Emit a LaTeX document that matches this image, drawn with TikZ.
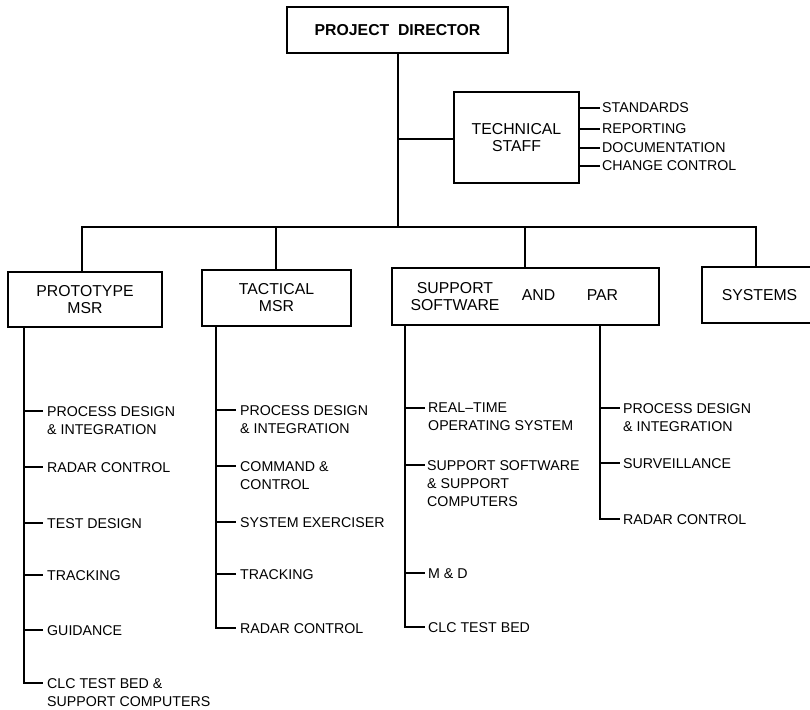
\documentclass[tikz,border=0pt]{standalone}
\usepackage{fontspec}
\setmainfont{Liberation Sans}
\begin{document}
\begin{tikzpicture}[x=1pt,y=-1pt,
  box/.style={draw, line width=1.7pt, inner sep=0pt, align=center, font=\fontsize{15.8}{17}\selectfont},
  boxtext/.style={inner sep=0pt, align=center, font=\fontsize{15.8}{17}\selectfont},
  item/.style={inner sep=0pt, anchor=north west, align=left, font=\fontsize{14.2}{18}\selectfont},
  conn/.style={line width=2.8pt, line cap=butt, line join=miter},
  tick/.style={line width=2.6pt}]
\clip (0,0) rectangle (810,709);
\useasboundingbox (0,0) rectangle (810,709);
\fill[white] (0,0) rectangle (810,709);

% top boxes
\node[box, minimum width=221pt, minimum height=46pt, font=\fontsize{15.8}{17}\selectfont\bfseries] (pd) at (397.5,30) {PROJECT\ \ DIRECTOR};
\node[box, line width=1.4pt, minimum width=125pt, minimum height=91pt] (ts) at (516.5,137.5) {TECHNICAL\\STAFF};

% second row boxes
\node[box, minimum width=154pt, minimum height=55pt] (proto) at (85,299.5) {PROTOTYPE\\MSR};
\node[box, minimum width=149pt, minimum height=56pt] (tact) at (276.5,298) {TACTICAL\\MSR};
\node[box, minimum width=267pt, minimum height=57pt] (supp) at (525.5,296.5) {};
\node[boxtext] (supptxt) at (455,297) {SUPPORT\\SOFTWARE};
\node[boxtext] (partxt) at (570,295) {AND\qquad PAR};
\node[box, minimum width=115pt, minimum height=56pt] (sys) at (759.5,295) {SYSTEMS};

% trunk and bar
\coordinate (barL) at (82,227);
\coordinate (barR) at (756,227);
\coordinate (barM) at (398,227);
\coordinate (tsj) at (398,139);
\draw[conn] (pd.south -| barM) -- (barM);
\draw[conn] (tsj) -- (ts.west |- tsj);
\draw[conn] (barL |- proto.north) -- (barL) -- (barR) -- (barR |- sys.north);
\coordinate (tactj) at (276,227);
\coordinate (suppj) at (525,227);
\draw[conn] (tactj) -- (tactj |- tact.north);
\draw[conn] (suppj) -- (suppj |- supp.north);

% technical staff items
\foreach \n/\y/\t in {1/108/STANDARDS, 2/129/REPORTING, 3/148/DOCUMENTATION, 4/166/CHANGE CONTROL}{
  \coordinate (tse\n) at (600,\y);
  \draw[tick] (ts.east |- tse\n) -- (tse\n);
  \node[item, anchor=west] (tsi\n) at (602,\y) {\t};
}

% prototype branch
\coordinate (pa1) at (24,411); \coordinate (pa1e) at (43,411);
\coordinate (pa2) at (24,467); \coordinate (pa2e) at (43,467);
\coordinate (pa3) at (24,523); \coordinate (pa3e) at (43,523);
\coordinate (pa4) at (24,575); \coordinate (pa4e) at (43,575);
\coordinate (pa5) at (24,630); \coordinate (pa5e) at (43,630);
\coordinate (pa6) at (24,683); \coordinate (pa6e) at (43,683);
\draw[conn] (proto.south -| pa1) -- (pa6) -- (pa6e);
\foreach \i in {1,...,5}{ \draw[tick] (pa\i) -- (pa\i e); }
\node[item] (pi1) at (47,406) {PROCESS DESIGN\\\& INTEGRATION};
\node[item] (pi2) at (47,462) {RADAR CONTROL};
\node[item] (pi3) at (47,518) {TEST DESIGN};
\node[item] (pi4) at (47,570) {TRACKING};
\node[item] (pi5) at (47,625) {GUIDANCE};
\node[item] (pi6) at (47,678) {CLC TEST BED \&\\SUPPORT COMPUTERS};

% tactical branch
\coordinate (ta1) at (216,410); \coordinate (ta1e) at (236,410);
\coordinate (ta2) at (216,466); \coordinate (ta2e) at (236,466);
\coordinate (ta3) at (216,522); \coordinate (ta3e) at (236,522);
\coordinate (ta4) at (216,574); \coordinate (ta4e) at (236,574);
\coordinate (ta5) at (216,628); \coordinate (ta5e) at (236,628);
\draw[conn] (tact.south -| ta1) -- (ta5) -- (ta5e);
\foreach \i in {1,...,4}{ \draw[tick] (ta\i) -- (ta\i e); }
\node[item] (ti1) at (240,405) {PROCESS DESIGN\\\& INTEGRATION};
\node[item] (ti2) at (240,461) {COMMAND \&\\CONTROL};
\node[item] (ti3) at (240,517) {SYSTEM EXERCISER};
\node[item] (ti4) at (240,569) {TRACKING};
\node[item] (ti5) at (240,623) {RADAR CONTROL};

% support software branch
\coordinate (sa1) at (405,408); \coordinate (sa1e) at (425,408);
\coordinate (sa2) at (405,465); \coordinate (sa2e) at (425,465);
\coordinate (sa3) at (405,573); \coordinate (sa3e) at (425,573);
\coordinate (sa4) at (405,627); \coordinate (sa4e) at (425,627);
\draw[conn] (supp.south -| sa1) -- (sa4) -- (sa4e);
\foreach \i in {1,...,3}{ \draw[tick] (sa\i) -- (sa\i e); }
\node[item] (si1) at (428,403) {REAL--TIME\\OPERATING SYSTEM};
\node[item] (si2) at (427,460) {SUPPORT SOFTWARE\\\& SUPPORT\\COMPUTERS};
\node[item] (si3) at (428,568) {M \& D};
\node[item] (si4) at (428,622) {CLC TEST BED};

% PAR branch
\coordinate (ra1) at (600,408); \coordinate (ra1e) at (620,408);
\coordinate (ra2) at (600,463); \coordinate (ra2e) at (620,463);
\coordinate (ra3) at (600,519); \coordinate (ra3e) at (620,519);
\draw[conn] (supp.south -| ra1) -- (ra3) -- (ra3e);
\foreach \i in {1,2}{ \draw[tick] (ra\i) -- (ra\i e); }
\node[item] (ri1) at (623,403) {PROCESS DESIGN\\\& INTEGRATION};
\node[item] (ri2) at (623,458) {SURVEILLANCE};
\node[item] (ri3) at (623,514) {RADAR CONTROL};
\end{tikzpicture}
\end{document}
